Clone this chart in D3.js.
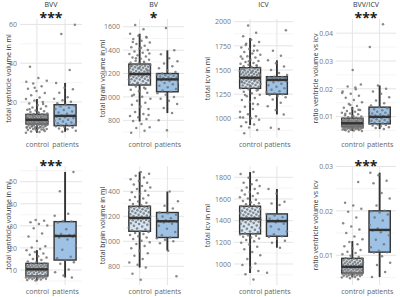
<!DOCTYPE html>
<html><head><meta charset="utf-8">
<script src="https://cdnjs.cloudflare.com/ajax/libs/d3/7.8.5/d3.min.js"></script>
<style>
body{margin:0;background:#fff}
svg{display:block}
text{font-family:'Open Sans','DejaVu Sans',sans-serif}
</style>
</head><body>
<svg id="chart" width="400" height="297"></svg>
<script>
// ---------------- data ----------------
const groups = ["control", "patients"];
const panelTitles = ["BVV", "BV", "ICV", "BVV/ICV", "", "", "", ""];
const significance = ["***", "*", "", "***", "***", "", "", "***"];
const yTitles = ["total ventricle volume in ml", "total brain volume in ml", "total icv in ml", "ratio ventricle volume vs icv",
                 "total ventricle volume in ml", "total brain volume in ml", "total icv in ml", "ratio ventricle volume vs icv"];

const majorTicks = [
  [20, 40, 60],
  [800, 1000, 1200, 1400, 1600],
  [1000, 1250, 1500, 1750, 2000],
  [0.01, 0.02, 0.03, 0.04],
  [10, 20, 30, 40, 50],
  [800, 1000, 1200, 1400],
  [1000, 1200, 1400, 1600, 1800],
  [0.01, 0.02, 0.03]
];
const minorTicks = [
  [10, 30, 50],
  [700, 900, 1100, 1300, 1500],
  [875, 1125, 1375, 1625, 1875],
  [0.005, 0.015, 0.025, 0.035],
  [5, 15, 25, 35, 45, 55],
  [700, 900, 1100, 1300, 1500],
  [900, 1100, 1300, 1500, 1700],
  [0.005, 0.015, 0.025]
];
const tickLabels = [
  ["20", "40", "60"],
  ["800", "1000", "1200", "1400", "1600"],
  ["1000", "1250", "1500", "1750", "2000"],
  ["0.01", "0.02", "0.03", "0.04"],
  ["10", "20", "30", "40", "50"],
  ["800", "1000", "1200", "1400"],
  ["1000", "1200", "1400", "1600", "1800"],
  ["0.01", "0.02", "0.03"]
];

// box stats: [lower whisker, q1, median, q3, upper whisker]
const boxControl = [
  [4.1, 8.6, 10.8, 13.6, 21.5],
  [790, 1102, 1196, 1281, 1540],
  [930, 1310, 1420, 1524, 1830],
  [0.0048, 0.0064, 0.0076, 0.0094, 0.0135],
  [5.2, 7.3, 10.3, 13.0, 19.0],
  [790, 1080, 1187, 1280, 1555],
  [917, 1278, 1418, 1533, 1848],
  [0.0050, 0.0060, 0.0074, 0.0093, 0.0132]
];
const boxPatients = [
  [4.6, 7.8, 12.8, 18.6, 29.8],
  [862, 1044, 1150, 1200, 1398],
  [1040, 1250, 1397, 1431, 1600],
  [0.0055, 0.0074, 0.0099, 0.0134, 0.0212],
  [6.6, 14.5, 25.4, 31.9, 54.4],
  [925, 1030, 1160, 1230, 1398],
  [1150, 1256, 1395, 1462, 1692],
  [0.0051, 0.0107, 0.0157, 0.0200, 0.0286]
];

// individual subjects (jittered points)
const bvvControl = [4.1,4.5,4.8,5.0,5.3,5.5,5.8,6.0,6.1,6.4,6.6,6.8,6.9,7.1,7.2,7.4,7.6,7.7,7.9,8.0,8.1,8.2,8.4,8.5,8.6,
  8.7,8.8,8.9,9.0,9.1,9.2,9.3,9.4,9.5,9.6,9.7,9.8,9.9,10.0,10.1,10.2,10.3,10.3,10.4,10.5,10.6,10.6,10.7,10.8,10.8,
  10.9,11.0,11.1,11.2,11.3,11.4,11.5,11.6,11.8,11.9,12.0,12.1,12.2,12.3,12.5,12.6,12.7,12.8,12.9,13.0,13.1,13.2,13.3,13.5,13.6,
  13.8,14.1,14.4,14.8,15.2,15.6,16.0,16.5,17.1,17.8,18.4,19.2,20.0,20.8,21.5,22.3,23.5,24.6,25.7,26.8,28.1,29.5,31.0,32.4,38.1,
  5.6,6.2,6.7,7.0,7.5,7.8,8.3,8.9,9.1,9.4,9.7,10.0,10.4,10.9,11.3,11.7,12.2,12.8,13.4,14.6,16.2,18.9,27.3,30.4];
const bvvPatients = [4.6,5.2,5.9,6.3,6.8,7.2,7.5,7.7,7.9,8.3,8.6,9.0,9.4,9.9,10.3,10.8,11.2,11.7,12.1,12.5,12.8,13.0,13.4,13.9,
  14.5,15.1,15.8,16.4,17.0,17.6,18.2,18.6,19.3,20.1,20.9,21.6,22.4,24.8,26.5,27.3,29.8,36.5,55.0,59.8];
const bvControl = [694,712,735,741,768,795,812,826,838,855,872,896,915,934,950,968,985,1002,1018,1035,1049,1062,1078,1090,1102,
  1106,1111,1117,1122,1128,1133,1139,1143,1148,1152,1156,1160,1164,1168,1171,1175,1178,1182,1185,1188,1190,1192,1194,1195,1196,
  1198,1201,1204,1207,1210,1214,1218,1222,1226,1230,1234,1238,1242,1246,1250,1254,1258,1261,1264,1267,1270,1273,1276,1279,1281,
  1286,1293,1301,1310,1318,1327,1336,1345,1356,1366,1378,1389,1401,1413,1425,1438,1452,1466,1480,1495,1508,1522,1540,1578,1615,
  845,920,1010,1070,1115,1150,1180,1200,1225,1245,1265,1290,1330,1372,1420,1470,1512];
const bvPatients = [716,800,862,905,940,968,985,1000,1018,1032,1044,1055,1068,1082,1095,1108,1118,1128,1136,1142,1148,1150,
  1154,1158,1162,1166,1170,1175,1180,1186,1192,1197,1200,1212,1228,1245,1262,1285,1305,1330,1365,1398,1590];
const icvControl = [846,880,905,918,935,960,985,1000,1008,1020,1042,1068,1095,1120,1145,1168,1190,1210,1228,1245,1260,1274,1288,1300,1310,
  1315,1321,1327,1333,1339,1345,1350,1356,1361,1366,1371,1376,1381,1386,1390,1394,1398,1402,1405,1408,1411,1414,1416,1418,1420,
  1423,1427,1431,1435,1439,1443,1447,1451,1455,1459,1463,1467,1471,1475,1479,1483,1487,1491,1495,1499,1503,1508,1513,1518,1524,
  1530,1538,1546,1555,1564,1573,1583,1594,1605,1617,1630,1643,1657,1671,1686,1701,1717,1734,1752,1771,1790,1812,1850,1885,1962,
  1012,1150,1240,1295,1340,1372,1400,1428,1452,1480,1510,1545,1590,1640,1700,1760];
const icvPatients = [888,902,1040,1085,1125,1160,1195,1218,1232,1242,1250,1258,1268,1280,1295,1310,1326,1342,1358,1372,1384,
  1392,1397,1400,1404,1407,1410,1413,1416,1420,1424,1428,1431,1448,1470,1500,1535,1570,1600,1648,1700,1912];
const ratioControl = [.0046,.0048,.0050,.0051,.0052,.0053,.0054,.0055,.0056,.0056,.0057,.0058,.0058,.0059,.0060,.0060,.0061,.0061,.0062,.0062,.0063,.0063,.0063,.0064,.0064,
  .0065,.0065,.0066,.0066,.0067,.0067,.0068,.0068,.0069,.0069,.0070,.0070,.0071,.0071,.0072,.0072,.0073,.0073,.0074,.0074,.0075,.0075,.0075,.0076,.0076,
  .0077,.0077,.0078,.0078,.0079,.0080,.0080,.0081,.0082,.0082,.0083,.0084,.0084,.0085,.0086,.0086,.0087,.0088,.0089,.0090,.0090,.0091,.0092,.0093,.0094,
  .0096,.0098,.0100,.0102,.0105,.0108,.0111,.0114,.0117,.0120,.0124,.0128,.0132,.0138,.0145,.0152,.0160,.0168,.0175,.0182,.0190,.0198,.0208,.0215,.0268,
  .0053,.0057,.0060,.0063,.0066,.0069,.0072,.0075,.0079,.0083,.0087,.0092,.0099,.0110,.0125,.0142,.0185,.0205];
const ratioPatients = [.0055,.0059,.0062,.0065,.0068,.0070,.0072,.0074,.0076,.0078,.0080,.0083,.0085,.0088,.0090,.0092,.0094,.0096,.0098,.0099,
  .0100,.0102,.0104,.0106,.0108,.0111,.0114,.0117,.0120,.0123,.0126,.0130,.0134,.0140,.0148,.0158,.0170,.0182,.0190,.0200,.0212,.0350,.0432];

const bvv2Control = [5.2,5.5,5.7,5.9,6.0,6.2,6.3,6.4,6.5,6.6,6.7,6.8,6.9,6.9,7.0,7.0,7.1,7.1,7.2,7.2,7.3,7.3,
  7.5,7.7,7.9,8.1,8.3,8.5,8.7,8.8,9.0,9.1,9.3,9.4,9.5,9.6,9.7,9.8,9.9,10.0,10.1,10.1,10.2,10.3,10.3,
  10.4,10.5,10.6,10.8,10.9,11.0,11.1,11.2,11.4,11.5,11.6,11.7,11.8,11.9,12.0,12.2,12.3,12.4,12.6,12.7,12.8,12.9,13.0,
  13.4,13.9,14.5,15.0,15.6,16.2,16.9,17.5,18.2,18.9,19.5,20.2,20.8,23.1,25.2,26.5,28.9,30.2,30.8,31.6,32.3,32.6];
const bvv2Patients = [6.6,7.5,9.0,10.2,12.8,13.5,14.5,15.3,16.0,19.2,21.0,23.8,24.7,25.1,25.4,25.6,25.9,26.3,26.0,28.5,31.5,32.0,32.2,34.6,35.5,45.7,54.4];
const bv2Control = [693,740,790,812,830,858,885,905,925,945,962,978,992,1005,1018,1030,1040,1050,1058,1066,1074,1080,
  1088,1095,1103,1110,1118,1125,1132,1138,1144,1150,1155,1160,1164,1168,1172,1175,1178,1180,1182,1184,1185,1186,1187,
  1190,1194,1198,1202,1207,1212,1217,1222,1227,1232,1236,1240,1244,1248,1252,1256,1260,1264,1268,1272,1275,1278,1280,
  1288,1298,1308,1318,1330,1342,1355,1368,1380,1392,1405,1418,1430,1442,1455,1468,1482,1496,1510,1525,1540,1555];
const bv2Patients = [720,925,985,1000,1012,1025,1030,1048,1075,1100,1125,1140,1150,1155,1158,1160,1162,1168,1175,1185,1198,1212,1225,1230,1262,1285,1320,1398];
const icv2Control = [856,905,935,968,990,1005,1045,1080,1110,1135,1160,1180,1195,1210,1222,1234,1244,1252,1260,1266,1272,1278,
  1284,1292,1300,1308,1316,1324,1332,1340,1348,1356,1364,1371,1378,1384,1390,1395,1400,1404,1408,1411,1414,1416,1418,
  1422,1427,1432,1437,1442,1447,1452,1457,1462,1467,1472,1477,1482,1487,1492,1497,1502,1507,1512,1518,1523,1528,1533,
  1541,1550,1560,1570,1581,1592,1604,1616,1628,1640,1652,1665,1678,1692,1706,1720,1735,1750,1772,1795,1830,1848];
const icv2Patients = [920,1150,1195,1215,1232,1250,1256,1275,1300,1320,1345,1372,1385,1393,1396,1398,1402,1408,1418,1432,1448,1462,1545,1558,1575,1650,1692];
const ratio2Control = [.0046,.0048,.0050,.0051,.0052,.0053,.0054,.0054,.0055,.0055,.0056,.0056,.0057,.0057,.0058,.0058,.0059,.0059,.0059,.0060,.0060,.0060,
  .0061,.0062,.0062,.0063,.0064,.0064,.0065,.0066,.0066,.0067,.0068,.0068,.0069,.0070,.0070,.0071,.0071,.0072,.0072,.0073,.0073,.0074,.0074,
  .0075,.0076,.0077,.0077,.0078,.0079,.0080,.0080,.0081,.0082,.0083,.0084,.0084,.0085,.0086,.0087,.0088,.0089,.0090,.0091,.0092,.0092,.0093,
  .0096,.0099,.0102,.0105,.0108,.0112,.0116,.0120,.0125,.0130,.0136,.0142,.0150,.0158,.0165,.0172,.0185,.0198,.0205,.0212,.0218,.0265];
const ratio2Patients = [.0051,.0062,.0078,.0083,.0098,.0106,.0107,.0110,.0118,.0125,.0135,.0145,.0152,.0156,.0157,.0160,.0168,.0178,.0185,.0192,.0196,.0199,.0200,.0212,.0228,.0240,.0262,.0268,.0280,.0286];

const pointsControl = [bvvControl, bvControl, icvControl, ratioControl, bvv2Control, bv2Control, icv2Control, ratio2Control];
const pointsPatients = [bvvPatients, bvPatients, icvPatients, ratioPatients, bvv2Patients, bv2Patients, icv2Patients, ratio2Patients];

// ---------------- layout (not data) ----------------
const yDomains = [[1.4, 62.8], [649, 1666], [796, 2028], [0.0023, 0.0451],
                  [3.2, 57.1], [650, 1602], [806, 1904], [0.0033, 0.0301]];
const rows = [{top: 19, bottom: 138, star: 22.5}, {top: 166, bottom: 285, star: 171}];
const cols = [{l: 20, r: 82, yt: 8}, {l: 123, r: 184, yt: 102}, {l: 234, r: 293, yt: 207}, {l: 336, r: 396, yt: 315}];
const fills = ["#d5e5f3", "#9dc2e5"];

const svg = d3.select("#chart");

for (let p = 0; p < 8; p++) {
  const row = rows[Math.floor(p / 4)], col = cols[p % 4];
  const x = d3.scaleLinear().domain([0.4, 2.6]).range([col.l, col.r]);
  const y = d3.scaleLinear().domain(yDomains[p]).range([row.bottom, row.top]);
  const g = svg.append("g");

  // minor grid
  g.selectAll(".mg").data(minorTicks[p].filter(v => v >= yDomains[p][0] && v <= yDomains[p][1])).enter()
    .append("line").attr("x1", col.l).attr("x2", col.r)
    .attr("y1", d => y(d)).attr("y2", d => y(d))
    .attr("stroke", "#f2f2f2").attr("stroke-width", 0.8);
  // major grid
  g.selectAll(".Mg").data(majorTicks[p]).enter()
    .append("line").attr("x1", col.l).attr("x2", col.r)
    .attr("y1", d => y(d)).attr("y2", d => y(d))
    .attr("stroke", "#e4e4e4").attr("stroke-width", 1);
  g.selectAll(".vg").data([1, 2]).enter()
    .append("line").attr("y1", row.top).attr("y2", row.bottom)
    .attr("x1", d => x(d)).attr("x2", d => x(d))
    .attr("stroke", "#e4e4e4").attr("stroke-width", 1);

  // axes
  const ya = d3.axisLeft(y).tickValues(majorTicks[p]).tickSize(0).tickPadding(3)
    .tickFormat((d, i) => tickLabels[p][i]);
  const yg = g.append("g").attr("transform", `translate(${col.l},0)`).call(ya);
  yg.select(".domain").remove();
  yg.selectAll("text").attr("font-size", 7).attr("fill", "#777").attr("font-family", "'Open Sans',sans-serif");

  const xa = d3.axisBottom(x).tickValues([1, 2]).tickSize(0).tickPadding(4)
    .tickFormat((d, i) => groups[i]);
  const xg = g.append("g").attr("transform", `translate(0,${row.bottom})`).call(xa);
  xg.select(".domain").remove();
  xg.selectAll("text").attr("font-size", 7).attr("fill", "#666").attr("font-family", "'Open Sans',sans-serif");

  // y title
  g.append("text").attr("transform", `translate(${col.yt},${(row.top + row.bottom) / 2}) rotate(-90)`)
    .attr("text-anchor", "middle").attr("dominant-baseline", "central")
    .attr("font-size", 7).attr("fill", "#333").text(yTitles[p]);

  // panel title and significance
  const cx = (col.l + col.r) / 2;
  if (panelTitles[p]) g.append("text").attr("x", cx).attr("y", 7).attr("text-anchor", "middle")
    .attr("font-size", 7).attr("fill", "#333").text(panelTitles[p]);
  if (significance[p]) g.append("text").attr("x", x(1.5)).attr("y", row.star).attr("text-anchor", "middle")
    .attr("font-size", 14).attr("font-weight", "bold").attr("fill", "#222").text(significance[p]);

  // boxes
  const stats = [boxControl[p], boxPatients[p]];
  const bw = 0.39;
  stats.forEach((s, k) => {
    const c = k + 1;
    g.append("line").attr("x1", x(c)).attr("x2", x(c)).attr("y1", y(s[0])).attr("y2", y(s[1]))
      .attr("stroke", "#333").attr("stroke-width", 1.9);
    g.append("line").attr("x1", x(c)).attr("x2", x(c)).attr("y1", y(s[3])).attr("y2", y(s[4]))
      .attr("stroke", "#333").attr("stroke-width", 1.9);
    g.append("rect").attr("x", x(c - bw)).attr("width", x(c + bw) - x(c - bw))
      .attr("y", y(s[3])).attr("height", y(s[1]) - y(s[3]))
      .attr("fill", fills[k]).attr("stroke", "#333").attr("stroke-width", 1.4);
  });

  // points
  [pointsControl[p], pointsPatients[p]].forEach((vals, k) => {
    const c = k + 1;
    g.selectAll(null).data(vals).enter().append("circle")
      .attr("cx", (d, i) => x(c + (((i * 0.6180339887 + k * 0.37 + p * 0.11) % 1) - 0.5) * 0.78))
      .attr("cy", d => y(d)).attr("r", 1.25)
      .attr("fill", "#747474").attr("fill-opacity", 0.85);
  });

  // medians on top
  stats.forEach((s, k) => {
    const c = k + 1;
    g.append("line").attr("x1", x(c - bw)).attr("x2", x(c + bw)).attr("y1", y(s[2])).attr("y2", y(s[2]))
      .attr("stroke", "#333").attr("stroke-width", 2.4);
  });
}
</script>
</body></html>
